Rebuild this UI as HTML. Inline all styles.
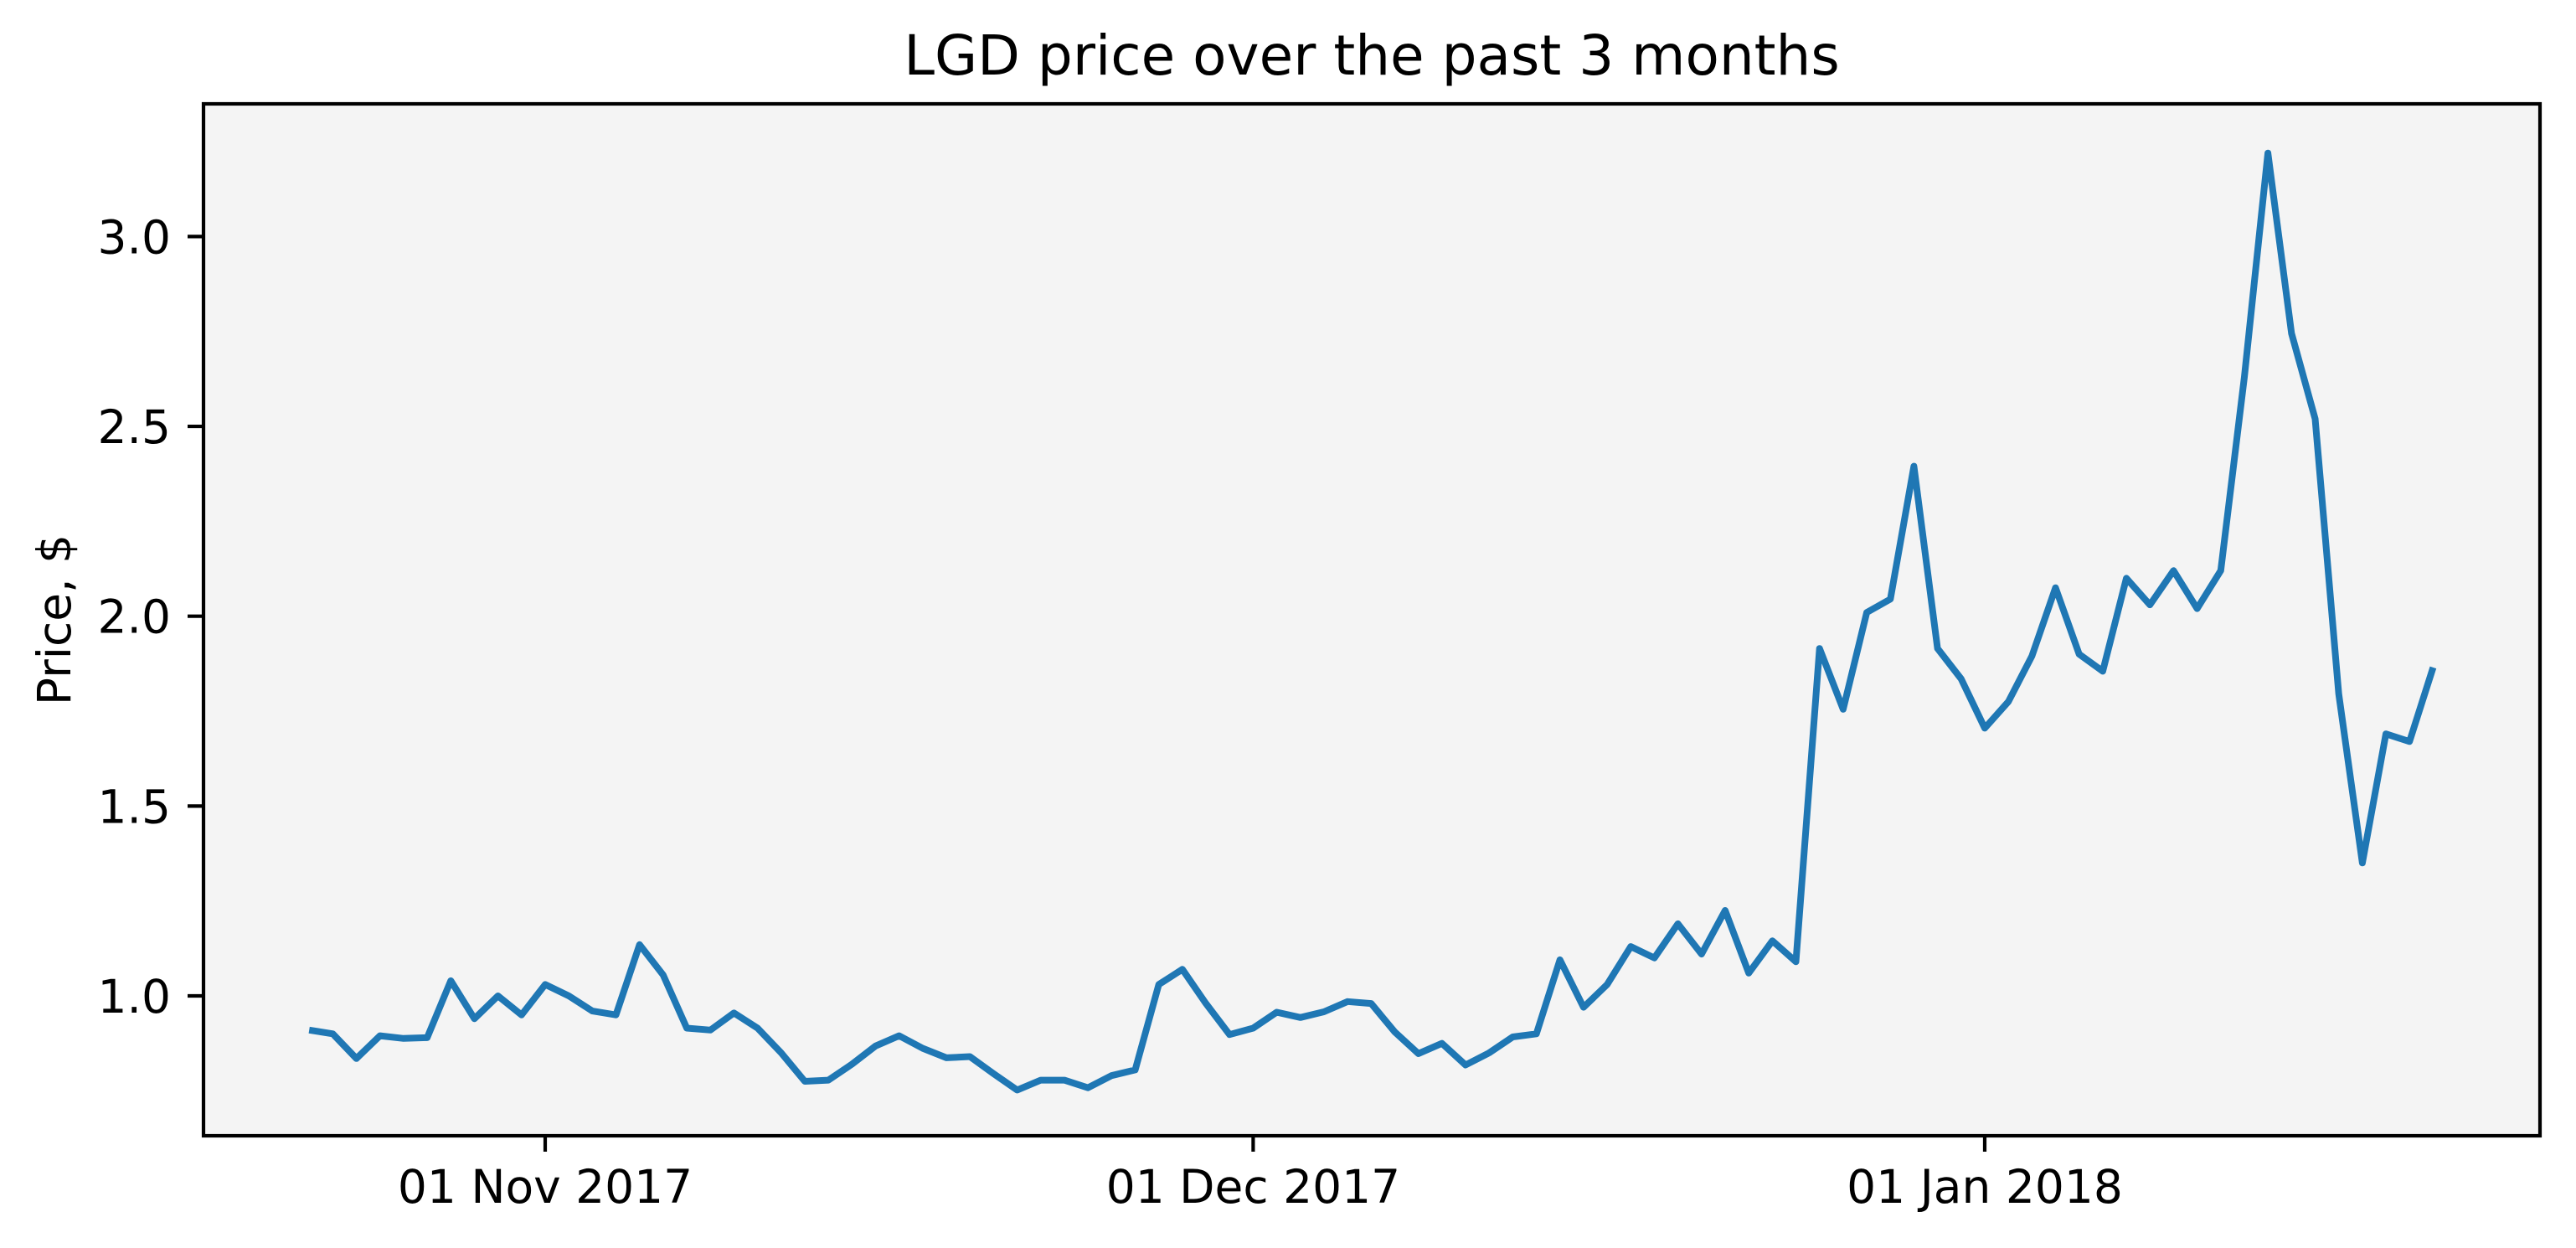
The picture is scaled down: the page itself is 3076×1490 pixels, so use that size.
<!DOCTYPE html>
<html><head><meta charset="utf-8"><style>
html,body{margin:0;padding:0;background:#fff;}
svg{display:block;font-family:"DejaVu Sans","Liberation Sans",sans-serif;}
</style></head><body>
<svg id="chart" width="3076" height="1490" viewBox="0 0 3076 1490" xmlns="http://www.w3.org/2000/svg">
<rect x="0" y="0" width="3076" height="1490" fill="#ffffff"/>
<rect x="243" y="124" width="2790" height="1232" fill="#f4f4f4"/>
<path id="line" fill="none" stroke="#1f77b4" stroke-width="8" stroke-linejoin="round" stroke-linecap="butt"/>
<rect x="243" y="124" width="2790" height="1232" fill="none" stroke="#000" stroke-width="4.2"/>
<g id="yticks"></g>
<g id="xticks"></g>
<text x="1638" y="89" font-size="66" text-anchor="middle" fill="#000">LGD price over the past 3 months</text>
<text transform="translate(84,740) rotate(-90)" font-size="55" text-anchor="middle" fill="#000">Price, $</text>
</svg>
<script>
// day offsets relative to 01 Nov 2017 (first point = 22 Oct 2017)
const startOffset = -10;
const prices = [0.91,0.90,0.835,0.895,0.888,0.89,1.04,0.94,1.0,0.95,
1.03,1.0,0.96,0.95,1.135,1.055,0.915,0.91,0.955,0.915,
0.85,0.775,0.778,0.82,0.868,0.895,0.862,0.837,0.84,0.795,
0.752,0.778,0.778,0.758,0.79,0.805,1.03,1.07,0.98,0.898,
0.915,0.957,0.943,0.958,0.985,0.98,0.905,0.848,0.875,0.818,
0.85,0.892,0.9,1.095,0.97,1.03,1.13,1.10,1.19,1.11,
1.225,1.06,1.145,1.09,1.915,1.755,2.01,2.045,2.395,1.915,
1.835,1.705,1.775,1.895,2.075,1.9,1.855,2.1,2.03,2.12,
2.02,2.12,2.63,3.22,2.745,2.52,1.795,1.35,1.69,1.67,1.865];
const yTicks = [1.0,1.5,2.0,2.5,3.0];
const yTickLabels = ["1.0","1.5","2.0","2.5","3.0"];
const xTickDays = [0,30,61];
const xTickLabels = ["01 Nov 2017","01 Dec 2017","01 Jan 2018"];

const NS="http://www.w3.org/2000/svg";
function xScale(d){return 651 + d*28.18;}
function yScale(v){return 1189 - (v-1.0)*453.3;}

let d="";
prices.forEach((p,i)=>{d+=(i?"L":"M")+xScale(startOffset+i).toFixed(1)+","+yScale(p).toFixed(1);});
document.getElementById('line').setAttribute('d',d);

const yg=document.getElementById('yticks');
yTicks.forEach((v,i)=>{
  const y=yScale(v);
  const l=document.createElementNS(NS,'line');
  l.setAttribute('x1',243);l.setAttribute('x2',224);l.setAttribute('y1',y);l.setAttribute('y2',y);
  l.setAttribute('stroke','#000');l.setAttribute('stroke-width','4.2');
  
  
  yg.appendChild(l);
  const t=document.createElementNS(NS,'text');
  t.setAttribute('x',204);t.setAttribute('y',y+20);t.setAttribute('font-size','55');
  t.setAttribute('text-anchor','end');t.textContent=yTickLabels[i];
  
  
  yg.appendChild(t);
});
const xg=document.getElementById('xticks');
xTickDays.forEach((dd,i)=>{
  const x=xScale(dd);
  const l=document.createElementNS(NS,'line');
  l.setAttribute('x1',x);l.setAttribute('x2',x);l.setAttribute('y1',1356);l.setAttribute('y2',1375);
  l.setAttribute('stroke','#000');l.setAttribute('stroke-width','4.2');
  
  
  xg.appendChild(l);
  const t=document.createElementNS(NS,'text');
  t.setAttribute('x',x);t.setAttribute('y',1436);t.setAttribute('font-size','55');
  t.setAttribute('text-anchor','middle');t.textContent=xTickLabels[i];
  
  
  xg.appendChild(t);
});
</script>
</body></html>
